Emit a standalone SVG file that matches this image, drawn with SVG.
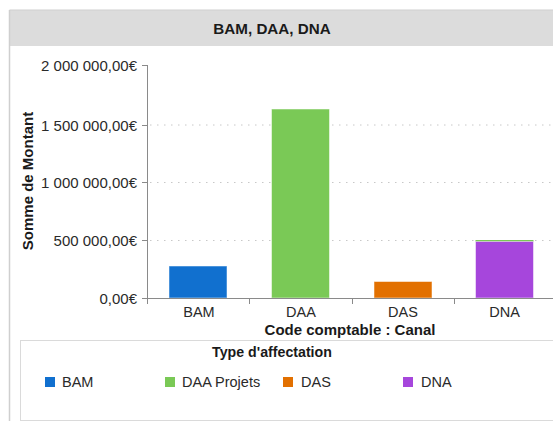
<svg xmlns="http://www.w3.org/2000/svg" width="553" height="421" viewBox="0 0 553 421">
<style>
text{font-family:"Liberation Sans",Arial,sans-serif;fill:#1a1a1a}
.b{font-weight:bold}
.yl{font-size:15px;text-anchor:end;fill:#2a2a2a}
.xl{font-size:14.5px;text-anchor:middle;fill:#2a2a2a}
.lg{font-size:14.5px;fill:#2a2a2a}
.grid{stroke:#c8c8c8;stroke-width:1;stroke-dasharray:1.5,5.5}
.ax{stroke:#8a8a8a;stroke-width:1;fill:none}
.bar{stroke:#ffffff;stroke-opacity:0.5;stroke-width:1}
</style>
<rect x="0" y="0" width="553" height="421" fill="#ffffff"/>
<g id="panel">
<rect x="9.5" y="10" width="544" height="36" fill="#dcdcdc"/>
<line x1="9.5" y1="10" x2="553" y2="10" stroke="#cfcfcf" stroke-width="1"/>
<line x1="9.5" y1="10" x2="9.5" y2="421" stroke="#cfcfcf" stroke-width="1.5"/>
<text x="272" y="34" class="b" font-size="15.2" text-anchor="middle">BAM, DAA, DNA</text>
</g>
<g id="grid">
<line class="grid" x1="150" y1="125" x2="553" y2="125"/>
<line class="grid" x1="150" y1="182.5" x2="553" y2="182.5"/>
<line class="grid" x1="150" y1="240.5" x2="553" y2="240.5"/>
</g>
<g id="bars">
<rect id="bar-bam" class="bar" x="169" y="266" width="58" height="32" fill="#1170cf"/>
<rect id="bar-daa" class="bar" x="271.5" y="109" width="58" height="189" fill="#7ac956"/>
<rect id="bar-das" class="bar" x="374" y="281.5" width="58" height="16.5" fill="#e27000"/>
<rect id="bar-dna-green" x="475.5" y="240" width="58" height="2" fill="#7ac956"/>
<rect id="bar-dna" class="bar" x="475.5" y="241.5" width="58" height="56.5" fill="#a646dc"/>
</g>
<g id="axes">
<line class="ax" x1="147.5" y1="65" x2="147.5" y2="298.5"/>
<line class="ax" x1="147" y1="298.5" x2="553" y2="298.5"/>
<line class="ax" x1="142" y1="65.5" x2="147.5" y2="65.5"/>
<line class="ax" x1="142" y1="125.5" x2="147.5" y2="125.5"/>
<line class="ax" x1="142" y1="182.5" x2="147.5" y2="182.5"/>
<line class="ax" x1="142" y1="240.5" x2="147.5" y2="240.5"/>
<line class="ax" x1="142" y1="298.5" x2="147.5" y2="298.5"/>
<line class="ax" x1="147.5" y1="298" x2="147.5" y2="304"/>
<line class="ax" x1="249.5" y1="298" x2="249.5" y2="304"/>
<line class="ax" x1="352.5" y1="298" x2="352.5" y2="304"/>
<line class="ax" x1="454.5" y1="298" x2="454.5" y2="304"/>
<text class="yl" x="137" y="70.5">2 000 000,00€</text>
<text class="yl" x="137" y="130.5">1 500 000,00€</text>
<text class="yl" x="137" y="188">1 000 000,00€</text>
<text class="yl" x="137" y="246">500 000,00€</text>
<text class="yl" x="137" y="303.5">0,00€</text>
<text class="xl" x="199" y="317">BAM</text>
<text class="xl" x="301" y="317">DAA</text>
<text class="xl" x="403" y="317">DAS</text>
<text class="xl" x="504.5" y="317">DNA</text>
<text class="b" font-size="15" text-anchor="middle" x="350" y="335">Code comptable : Canal</text>
<text class="b" font-size="15" text-anchor="middle" transform="translate(33,181) rotate(-90)">Somme de Montant</text>
</g>
<g id="legend">
<rect x="20.5" y="340.5" width="540" height="80" fill="none" stroke="#dadada" stroke-width="1"/>
<text class="b" font-size="14.2" text-anchor="middle" x="272" y="357">Type d'affectation</text>
<rect x="45" y="377" width="10" height="10" fill="#1170cf"/>
<text class="lg" x="62" y="387">BAM</text>
<rect x="165" y="377" width="10" height="10" fill="#7ac956"/>
<text class="lg" x="182" y="387">DAA Projets</text>
<rect x="283" y="377" width="10" height="10" fill="#e27000"/>
<text class="lg" x="301" y="387">DAS</text>
<rect x="403" y="377" width="10" height="10" fill="#a646dc"/>
<text class="lg" x="421" y="387">DNA</text>
</g>
</svg>
